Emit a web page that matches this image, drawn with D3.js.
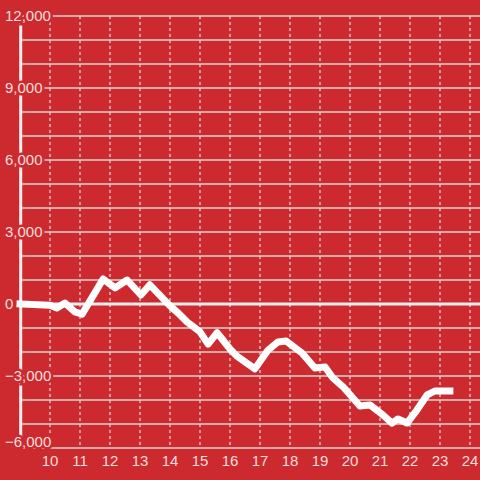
<!DOCTYPE html>
<html>
<head>
<meta charset="utf-8">
<script src="https://cdn.jsdelivr.net/npm/d3@7/dist/d3.min.js"></script>
<style>
html,body{margin:0;padding:0;background:#cd2a2f;}
svg{display:block;}
</style>
</head>
<body>
<svg id="chart" width="480" height="480"></svg>
<script>
// Data (hour of day, cumulative value)
const hours  = [9.0, 10.0, 10.23, 10.5, 10.83, 11.07, 11.77, 12.17, 12.57, 13.03, 13.33, 14.0, 14.27, 14.57, 15.0, 15.27, 15.57, 16.0, 16.23, 16.83, 17.27, 17.6, 17.87, 18.4, 18.83, 19.17, 19.43, 19.77, 20.33, 20.67, 21.1, 21.4, 21.6, 21.9, 22.23, 22.57, 22.83, 23.33];
const values = [0, -50, -170, 40, -330, -420, 1040, 670, 1000, 375, 800, -80, -375, -750, -1160, -1670, -1200, -1875, -2170, -2700, -1920, -1580, -1540, -2040, -2670, -2625, -3080, -3450, -4250, -4210, -4625, -4960, -4790, -4960, -4420, -3790, -3625, -3625];
const xTicks = [10, 11, 12, 13, 14, 15, 16, 17, 18, 19, 20, 21, 22, 23, 24];
const yTicks = [-6000, -3000, 0, 3000, 6000, 9000, 12000];
const yGrid  = d3.range(-6000, 12001, 1000);

const bg = "#cd2a2f";
const svg = d3.select("#chart");
const x = d3.scaleLinear().domain([9, 24]).range([20, 470]);
const y = d3.scaleLinear().domain([-6000, 12000]).range([448, 16]);

svg.append("rect").attr("width", 480).attr("height", 480).attr("fill", bg);

// horizontal grid
svg.append("g").selectAll("line").data(yGrid).join("line")
  .attr("x1", 22).attr("x2", 480)
  .attr("y1", d => y(d)).attr("y2", d => y(d))
  .attr("stroke", "#d4d4d4").attr("stroke-width", 1.5);

// vertical dashed grid
svg.append("g").selectAll("line").data(xTicks).join("line")
  .attr("x1", d => x(d)).attr("x2", d => x(d))
  .attr("y1", y(12000)).attr("y2", y(-6000))
  .attr("stroke", "#e0e0e0").attr("stroke-width", 1.2)
  .attr("stroke-dasharray", "3,3");

// zero line
svg.append("line").attr("x1", 17).attr("x2", 480)
  .attr("y1", y(0)).attr("y2", y(0))
  .attr("stroke", "#efefef").attr("stroke-width", 3);

// y axis bar
svg.append("line").attr("x1", 20.7).attr("x2", 20.7)
  .attr("y1", y(12000)).attr("y2", y(-6000))
  .attr("stroke", "#efefef").attr("stroke-width", 3);

// data line
const pts = hours.map((h, i) => [h, values[i]]);
svg.append("path").datum(pts)
  .attr("d", d3.line().x(d => x(d[0])).y(d => y(d[1])))
  .attr("fill", "none").attr("stroke", "#ffffff")
  .attr("stroke-width", 7).attr("stroke-linejoin", "round")
  .attr("stroke-linecap", "square");

// y labels with background halo
const fmt = d3.format(",");
svg.append("g").selectAll("text").data(yTicks).join("text")
  .attr("x", 5)
  .attr("y", d => y(d) + (d === -6000 ? -6 : 0))
  .attr("dy", "0.36em")
  .attr("text-anchor", "start")
  .attr("font-family", "'Liberation Sans', Arial, sans-serif")
  .attr("font-size", 15)
  .attr("fill", "#f6dede")
  .attr("stroke", bg).attr("stroke-width", 5)
  .attr("paint-order", "stroke")
  .text(d => fmt(d));

// x labels
svg.append("g").selectAll("text").data(xTicks).join("text")
  .attr("x", d => x(d))
  .attr("y", 466)
  .attr("text-anchor", "middle")
  .attr("font-family", "'Liberation Sans', Arial, sans-serif")
  .attr("font-size", 15)
  .attr("fill", "#f6dede")
  .text(d => d);
</script>
</body>
</html>
